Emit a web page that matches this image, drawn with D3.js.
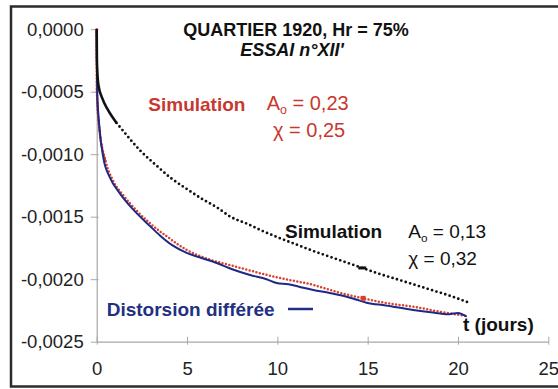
<!DOCTYPE html>
<html><head><meta charset="utf-8">
<script src="https://cdn.jsdelivr.net/npm/d3@7"></script>
<style>
html,body{margin:0;padding:0;background:#fff;}
svg{display:block;font-family:"Liberation Sans",Arial,sans-serif;}
</style></head>
<body><div id="chart"></div>
<script>
// ---- data (t in days, deformation) ----
const xTicks = [0, 5, 10, 15, 20, 25];
const yTicks = [0, -0.0005, -0.0010, -0.0015, -0.0020, -0.0025];
const yTickLabels = ["0,0000", "-0,0005", "-0,0010", "-0,0015", "-0,0020", "-0,0025"];

// measured "Distorsion différée"
const tMeasured = [0, 0.03, 0.14, 0.37, 0.74, 1.28, 2.0, 2.95, 3.5, 4.2, 4.98, 5.8, 6.64, 7.5, 8.49, 9.4, 9.96, 10.6, 11.2, 11.99, 12.9, 13.84, 14.4, 14.94, 16.0, 17.52, 18.5, 19.5, 20.0, 20.48];
const vMeasured = [0, -0.50, -0.766, -1.03, -1.19, -1.313, -1.44, -1.575, -1.65, -1.73, -1.79, -1.83, -1.87, -1.92, -1.966, -2.00, -2.03, -2.04, -2.06, -2.086, -2.11, -2.14, -2.165, -2.188, -2.21, -2.246, -2.265, -2.28, -2.27, -2.30].map(v => v * 1e-3);

// simulation A0 = 0,23 ; chi = 0,25 (red)
const tSimRed = [0, 0.01, 0.1, 0.5, 0.9, 1.5, 2.2, 2.95, 4.0, 4.98, 6.2, 7.56, 9.96, 11.99, 13.5, 14.75, 16.0, 17.52, 19.0, 20.48];
const vSimRed = [0, -0.50, -0.73, -1.06, -1.21, -1.334, -1.45, -1.553, -1.67, -1.766, -1.84, -1.894, -1.985, -2.046, -2.11, -2.153, -2.19, -2.22, -2.26, -2.294].map(v => v * 1e-3);

// simulation A0 = 0,13 ; chi = 0,32 (black)
const tSimBlack = [0, 0.01, 0.03, 0.1, 0.3, 0.6, 1.1, 1.5, 2.4, 3.3, 4.1, 4.9, 5.8, 6.7, 7.4, 8.3, 9.2, 10.1, 11.1, 12.0, 12.9, 13.8, 14.7, 15.6, 16.5, 17.5, 18.5, 19.5, 20.55];
const vSimBlack = [0, -0.23, -0.33, -0.45, -0.55, -0.64, -0.75, -0.82, -0.97, -1.09, -1.19, -1.27, -1.355, -1.43, -1.50, -1.555, -1.615, -1.67, -1.725, -1.775, -1.82, -1.865, -1.91, -1.955, -1.995, -2.04, -2.085, -2.13, -2.185].map(v => v * 1e-3);

// highlighted markers (index into the series above)
const redMarkIndex = 15;
const blackMarkIndex = 22;

// ---- drawing ----
const W = 558, H = 389;
const svg = d3.select("#chart").append("svg").attr("width", W).attr("height", H);

svg.append("rect").attr("x", 11).attr("y", 6.5).attr("width", 560).attr("height", 380)
  .attr("fill", "#fff").attr("stroke", "#2b2b2b").attr("stroke-width", 2.5);

const x = d3.scaleLinear().domain([0, 25]).range([96.7, 548.3]);
const y = d3.scaleLinear().domain([-0.0025, 0]).range([341.7, 29.2]);

const gray = "#a8a8a8";
// y axis
const yAxis = d3.axisLeft(y).tickValues(yTicks).tickSizeInner(6).tickSizeOuter(0)
  .tickFormat((d, i) => yTickLabels[i]).tickPadding(7);
const gy = svg.append("g").attr("transform", `translate(${x(0)},0)`).call(yAxis);
gy.select(".domain").attr("stroke", gray).attr("stroke-width", 1.2);
gy.selectAll(".tick line").attr("stroke", gray).attr("x2", -6).attr("x1", 2);
gy.selectAll(".tick text").attr("font-size", 18.5).attr("fill", "#222").attr("font-family", "Liberation Sans, Arial, sans-serif");

// x axis
const xAxis = d3.axisBottom(x).tickValues(xTicks).tickSizeInner(4).tickSizeOuter(0).tickPadding(16);
const gx = svg.append("g").attr("transform", `translate(0,${y(-0.0025)})`).call(xAxis);
gx.select(".domain").attr("stroke", gray).attr("stroke-width", 1.2);
gx.selectAll(".tick line").attr("stroke", gray).attr("y1", -5).attr("y2", 3);
gx.selectAll(".tick text").attr("font-size", 18.5).attr("fill", "#222").attr("font-family", "Liberation Sans, Arial, sans-serif");

const line = d3.line().x(d => x(d[0])).y(d => y(d[1])).curve(d3.curveMonotoneX);

const measured = tMeasured.map((t, i) => [t, vMeasured[i]]);
const red = tSimRed.map((t, i) => [t, vSimRed[i]]);
const black = tSimBlack.map((t, i) => [t, vSimBlack[i]]);

const redC = "#d8402c";
// red simulation: dotted
svg.append("path").datum(red).attr("d", line).attr("fill", "none")
  .attr("stroke", redC).attr("stroke-width", 2.5)
  .attr("stroke-dasharray", "0 3.5").attr("stroke-linecap", "round");
svg.append("path").datum(red.filter(d => d[0] <= 0.5)).attr("d", line).attr("fill", "none")
  .attr("stroke", redC).attr("stroke-width", 2);

// measured: solid navy
svg.append("path").datum(measured).attr("d", line).attr("fill", "none")
  .attr("stroke", "#1c2a86").attr("stroke-width", 2);

// black simulation: solid at dense start, dotted afterwards
svg.append("path").datum(black.filter(d => d[0] <= 1.1)).attr("d", line).attr("fill", "none")
  .attr("stroke", "#111").attr("stroke-width", 2.6);
svg.append("path").datum(black.filter(d => d[0] >= 1.1)).attr("d", line).attr("fill", "none")
  .attr("stroke", "#111").attr("stroke-width", 2.8)
  .attr("stroke-dasharray", "0 4.6").attr("stroke-linecap", "round");

// markers
const rm = red[redMarkIndex];
svg.append("rect").attr("x", x(rm[0]) - 2.5).attr("y", y(rm[1]) - 2.5).attr("width", 5).attr("height", 5).attr("fill", redC);
const bm = black[blackMarkIndex];
svg.append("rect").attr("x", x(bm[0]) - 4).attr("y", y(bm[1]) - 1.5).attr("width", 8).attr("height", 3).attr("fill", "#111");

// ---- texts ----
function txt(xp, yp, s, opts) {
  const t = svg.append("text").attr("x", xp).attr("y", yp)
    .attr("font-size", opts.size || 19).attr("fill", opts.color || "#111")
    .attr("font-weight", opts.bold ? "bold" : "normal")
    .attr("font-style", opts.italic ? "italic" : "normal")
    .attr("text-anchor", opts.anchor || "start");
  t.text(s);
  return t;
}
function aSub(xp, yp, val, color, size) {
  const t = svg.append("text").attr("x", xp).attr("y", yp).attr("font-size", size).attr("fill", color);
  t.append("tspan").text("A");
  t.append("tspan").attr("font-size", size * 0.62).attr("dy", 4).text("o");
  t.append("tspan").attr("dy", -4).text(" = " + val);
}

// title (two lines)
txt(296, 36, "QUARTIER 1920, Hr = 75%", {bold: true, anchor: "middle", size: 18});
txt(292, 56.2, "ESSAI n°XII'", {bold: true, italic: true, anchor: "middle", size: 18});

const red2 = "#c8382f";
txt(148.3, 111, "Simulation", {bold: true, color: red2});
aSub(266.7, 110, "0,23", red2, 20);
txt(273, 137, "χ = 0,25", {color: red2, size: 20});

txt(285, 237.5, "Simulation", {bold: true, color: "#111"});
aSub(408.3, 238, "0,13", "#111", 19);
txt(408.3, 265, "χ = 0,32", {color: "#111"});

txt(106.7, 316, "Distorsion différée", {bold: true, color: "#22307f"});
svg.append("line").attr("x1", 288).attr("x2", 313).attr("y1", 309).attr("y2", 309)
  .attr("stroke", "#22307f").attr("stroke-width", 2.5);

txt(463, 331, "t (jours)", {bold: true, color: "#111"});
</script>
</body></html>
